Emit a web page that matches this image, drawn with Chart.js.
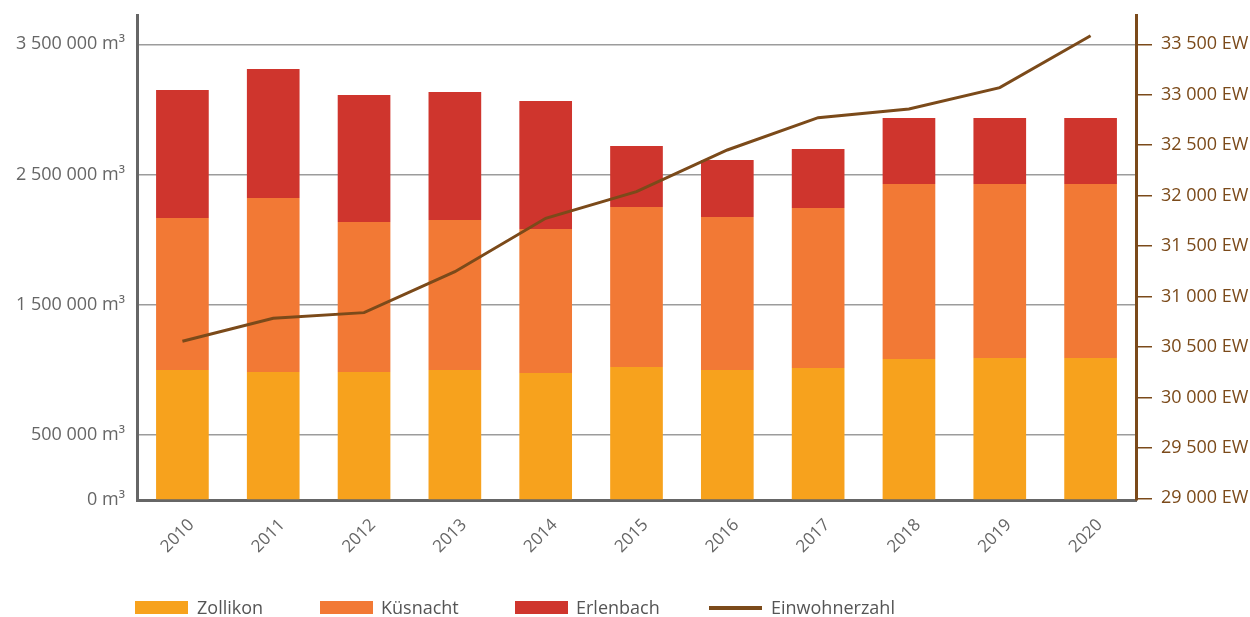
<!DOCTYPE html>
<html>
<head>
<meta charset="utf-8">
<script src="https://cdn.jsdelivr.net/npm/chart.js@4"></script>
<style>
  html, body { margin: 0; padding: 0; background: #fff; }
  #wrap { position: relative; width: 1250px; height: 617px; }
  canvas { position: absolute; left: 0; top: 0; }
  .lg { position: absolute; font-family: 'Open Sans', sans-serif; font-size: 18px; color: #555; line-height: 20px; }
  .bx { position: absolute; width: 53px; height: 13px; }
</style>
</head>
<body>
<div id="wrap">
  <canvas id="c" width="1250" height="617"></canvas>
  <div class="bx" style="left:135px; top:601px; background:#F7A21D"></div>
  <div class="lg" style="left:197px; top:597px">Zollikon</div>
  <div class="bx" style="left:320px; top:601px; background:#F27935"></div>
  <div class="lg" style="left:381px; top:597px">Küsnacht</div>
  <div class="bx" style="left:515px; top:601px; background:#CF352D"></div>
  <div class="lg" style="left:576px; top:597px">Erlenbach</div>
  <div class="bx" style="left:709px; top:606px; height:4px; background:#7B4A1A"></div>
  <div class="lg" style="left:771px; top:597px">Einwohnerzahl</div>
</div>
<script>
const years = ['2010','2011','2012','2013','2014','2015','2016','2017','2018','2019','2020'];
const zollikon  = [998000, 983000, 983000, 998000, 975000, 1021000, 998000, 1014000, 1083000, 1091000, 1091000];
const kuesnacht = [1168000, 1336000, 1152000, 1153000, 1106000, 1229000, 1176000, 1229000, 1344000, 1336000, 1336000];
const erlenbach = [983000, 991000, 976000, 983000, 984000, 469000, 437000, 453000, 507000, 507000, 507000];
const einwohner = [30556, 30784, 30840, 31246, 31775, 32039, 32452, 32772, 32859, 33070, 33585];
const leftTicks = [0, 500000, 1500000, 2500000, 3500000];
const rightTicks = [29000, 29500, 30000, 30500, 31000, 31500, 32000, 32500, 33000, 33500];

const FONT = "'Open Sans', sans-serif";
const BROWN = '#7B4A1A';

function fmt(v) {
  return String(Math.round(v)).replace(/\B(?=(\d{3})+(?!\d))/g, ' ');
}
function noPad(s) { s.paddingTop = 0; s.paddingBottom = 0; s.paddingLeft = 0; s.paddingRight = 0; }

new Chart(document.getElementById('c'), {
  type: 'bar',
  data: {
    labels: years,
    datasets: [
      { type: 'line', label: 'Einwohnerzahl', data: einwohner, yAxisID: 'y1', borderColor: BROWN, borderWidth: 3,
        pointRadius: 0, tension: 0, fill: false, order: 0 },
      { label: 'Zollikon', data: zollikon, backgroundColor: '#F7A21D', yAxisID: 'y', order: 1 },
      { label: 'Küsnacht', data: kuesnacht, backgroundColor: '#F27935', yAxisID: 'y', order: 1 },
      { label: 'Erlenbach', data: erlenbach, backgroundColor: '#CF352D', yAxisID: 'y', order: 1 }
    ]
  },
  options: {
    responsive: false,
    animation: false,
    layout: { padding: { left: 0, right: 0, top: 15, bottom: 0 } },
    datasets: { bar: { barPercentage: 0.58, categoryPercentage: 1.0, borderWidth: 0 } },
    plugins: { legend: { display: false }, tooltip: { enabled: false } },
    scales: {
      x: {
        stacked: true,
        grid: { display: false, drawTicks: false },
        border: { color: '#666', width: 3 },
        ticks: { color: '#666', font: { family: FONT, size: 17 }, maxRotation: 45, minRotation: 45, padding: 15, labelOffset: 9 },
        afterFit: s => { s.height = 117; noPad(s); }
      },
      y: {
        stacked: true,
        position: 'left',
        min: 0, max: 3725000,
        afterBuildTicks: s => { s.ticks = leftTicks.map(v => ({ value: v })); },
        afterFit: s => { s.width = 137; noPad(s); },
        grid: {
          color: c => (c.tick && c.tick.value === 0) ? 'rgba(0,0,0,0)' : '#9c9c9c',
          lineWidth: 1.5, drawTicks: false
        },
        border: { color: '#666', width: 3 },
        ticks: { color: '#666', font: { family: FONT, size: 18 }, padding: 12, callback: v => fmt(v) + ' m³' }
      },
      y1: {
        stacked: false,
        position: 'right',
        min: 28983, max: 33790,
        afterBuildTicks: s => { s.ticks = rightTicks.map(v => ({ value: v })); },
        afterFit: s => { s.width = 114; noPad(s); },
        grid: { drawOnChartArea: false, color: BROWN, lineWidth: 1.5, tickLength: 16 },
        border: { color: BROWN, width: 3 },
        ticks: { color: BROWN, font: { family: FONT, size: 18 }, padding: 9, callback: v => fmt(v) + ' EW' }
      }
    }
  }
});
</script>
</body>
</html>
